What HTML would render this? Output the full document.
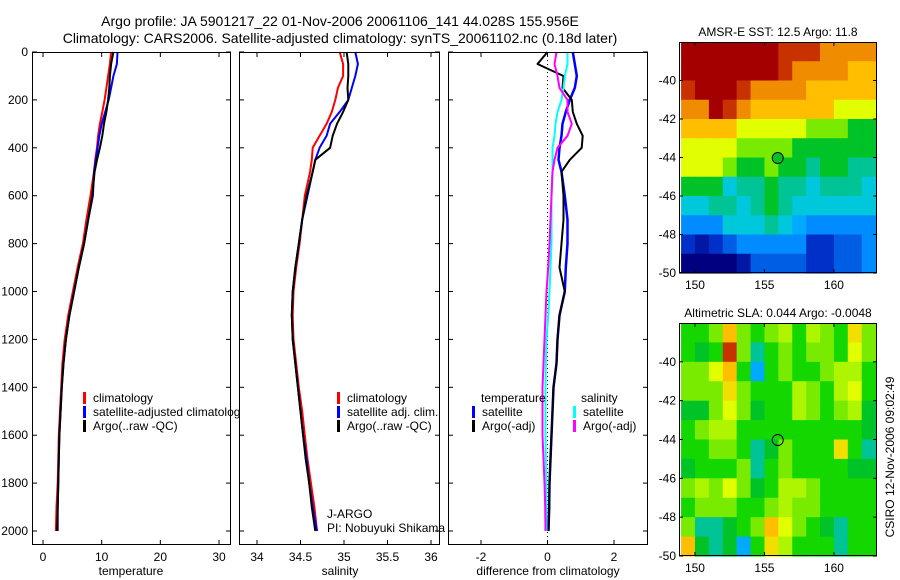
<!DOCTYPE html>
<html><head><meta charset="utf-8">
<style>
html,body{margin:0;padding:0;background:#fff;}
svg{display:block;font-family:"Liberation Sans",sans-serif;}
</style></head>
<body>
<svg id="fig" width="900" height="580" viewBox="0 0 900 580" xmlns="http://www.w3.org/2000/svg">
<rect width="900" height="580" fill="#fff"/>
<text x="340" y="26" font-size="14" text-anchor="middle">Argo profile: JA 5901217_22 01-Nov-2006 20061106_141 44.028S 155.956E</text>
<text x="340" y="43" font-size="14" text-anchor="middle">Climatology: CARS2006. Satellite-adjusted climatology: synTS_20061102.nc (0.18d later)</text>
<g id="root"></g>
</svg>
<script>
// ---------- data ----------
const depths = [0,50,100,150,200,250,300,350,400,450,500,600,700,800,900,1000,1100,1200,1300,1400,1500,1600,1700,1800,1900,2000];
const tempClim = [11.6,11.4,11.1,10.8,10.5,10.1,9.7,9.4,9.2,8.9,8.7,8.1,7.4,6.8,5.9,5.1,4.3,3.7,3.3,3.1,2.9,2.7,2.6,2.5,2.3,2.2];
const tempSat  = [12.7,12.6,12.0,11.6,11.2,10.6,10.0,9.6,9.3,9.0,8.7,8.5,7.7,7.0,6.1,5.3,4.5,3.9,3.5,3.2,3.0,2.8,2.7,2.6,2.5,2.5];
const tempArgo = [12.0,11.6,11.4,11.3,11.1,10.8,10.4,10.1,9.7,9.2,8.8,8.4,7.7,7.0,6.1,5.3,4.5,3.9,3.5,3.2,3.0,2.8,2.7,2.6,2.5,2.4];
const salClim = [34.95,34.99,34.99,34.93,34.90,34.86,34.80,34.72,34.64,34.63,34.61,34.55,34.52,34.49,34.45,34.42,34.41,34.42,34.45,34.48,34.52,34.55,34.58,34.62,34.66,34.69];
const salSat  = [35.13,35.16,35.13,35.09,35.05,34.95,34.84,34.80,34.72,34.67,34.64,34.58,34.52,34.48,34.44,34.41,34.40,34.41,34.44,34.47,34.50,34.53,34.57,34.60,34.64,34.69];
const salArgo = [35.03,35.05,35.05,35.04,35.05,34.99,34.92,34.87,34.84,34.67,34.64,34.57,34.52,34.48,34.44,34.41,34.40,34.41,34.44,34.47,34.50,34.53,34.56,34.60,34.63,34.67];
const dTempSat  = [0.76,0.82,0.88,0.82,0.67,0.55,0.45,0.42,0.36,0.33,0.42,0.52,0.60,0.60,0.55,0.52,0.36,0.30,0.27,0.18,0.15,0.12,0.09,0.06,0.05,0.03];
const dTempArgo = [0.0,-0.3,0.48,0.45,0.73,0.76,0.88,1.06,1.03,0.67,0.42,0.48,0.48,0.42,0.36,0.52,0.36,0.30,0.27,0.18,0.15,0.12,0.09,0.06,0.05,0.03];
const dSalSat  = [0.6,0.6,0.52,0.48,0.42,0.30,0.24,0.21,0.15,0.15,0.15,0.12,0.12,0.12,0.09,0.06,0.02,-0.03,-0.05,-0.06,-0.06,-0.06,-0.05,-0.04,-0.03,-0.03];
const dSalArgo = [0.27,0.21,0.30,0.36,0.60,0.60,0.73,0.60,0.30,0.21,0.15,0.12,0.09,0.06,0.02,-0.03,-0.06,-0.09,-0.12,-0.15,-0.15,-0.15,-0.12,-0.09,-0.07,-0.06];
const depthTicks = [0,200,400,600,800,1000,1200,1400,1600,1800,2000];
const tempTicks = [0,10,20,30];
const salTicks = [34,34.5,35,35.5,36];
const diffTicks = [-2,0,2];
const lonTicks = [150,155,160];
const latTicks = [-40,-42,-44,-46,-48,-50];
const lonCells = [149.5,150.5,151.5,152.5,153.5,154.5,155.5,156.5,157.5,158.5,159.5,160.5,161.5,162.5];
const latCells = [-38.5,-39.5,-40.5,-41.5,-42.5,-43.5,-44.5,-45.5,-46.5,-47.5,-48.5,-49.5];
const sstGrid = [
[10,10,10,10,10,10,10,9,9,9,8,8,8,8],
[10,10,10,10,10,10,10,9,8,8,8,8,7,7],
[9,10,10,10,9,8,8,8,8,7,7,7,7,7],
[8,8,10,9,8,7,7,7,7,7,7,6,6,6],
[7,7,7,7,6,6,6,6,6,5,5,5,4,4],
[6,6,6,6,5,5,5,5,4,4,4,4,4,4],
[6,6,6,5,4,4,5,4,4,3.5,4,4,3.5,3.5],
[4,4,4,3,3.5,3.5,4,3.5,3.5,3,3.5,3.5,3.5,3],
[3,3,3.5,3.5,3,3.5,4,3.5,3,3,3,3,3,3],
[2,2,2,3,3,3,3.5,3,2.5,2,2,2,2,2],
[1,0.5,1,1.5,2,2,2,2,2,1,1,1.5,1.5,2],
[0,0,0,0,0.5,1.5,1.5,1.5,1.5,1,1,1.5,1.5,2]];
const slaGrid = [
[4.5,4.5,5,7,5,4.5,5,5.5,4.5,5.5,5,4.5,6.5,5],
[4.5,4,4.5,9,5,3.5,4.5,5,4.5,5,5,4.5,6,5],
[5,5,6,7,4.5,2.5,4.5,5,4.5,4.5,5,5.5,5.5,4.5],
[5,5,5,6.5,5,4.5,4.5,4.5,5.5,5,4.5,5.5,6,4.5],
[4,4,5,6,5,4,4.5,4.5,5.5,5,4.5,5,5.5,4],
[4.5,5,5.5,5.5,4.5,4.5,4.5,4.5,4.5,4.5,4.5,4.5,4.5,4],
[4.5,4.5,5,5,4.5,3.5,4,5,4.5,4.5,4.5,6.5,4.5,3.5],
[4,4.5,4.5,4.5,5,3.5,4.5,5,4.5,4.5,4.5,4.5,4,4],
[5,5.5,5,6,5,4,4.5,5.5,5.5,5,4.5,4.5,4.5,4.5],
[4.5,5,5,5,4.5,4.5,5,5.5,5,5,4.5,4.5,4.5,4.5],
[5,3.5,3.5,4,4.5,5,7,6,5,4.5,4,3.5,4.5,4.5],
[7,4,3.5,4,2.5,4.5,6.5,5.5,4.5,4.5,4.5,3.5,4.5,4.5]];
const floatLon = 155.956, floatLat = -44.028;

// ---------- helpers ----------
const NS = "http://www.w3.org/2000/svg";
const root = document.getElementById('root');
function mk(tag, attrs, parent){ const e=document.createElementNS(NS,tag); for(const k in attrs) e.setAttribute(k,attrs[k]); (parent||root).appendChild(e); return e; }
function lin(d0,d1,r0,r1){ return v => r0 + (v-d0)*(r1-r0)/(d1-d0); }
const yDepth = lin(0,2000,52,531);
const PT=52, PB=545;
function profilePath(vals, deps, xf, yf){
  return vals.map((v,i)=>(i?'L':'M')+xf(v).toFixed(1)+','+yf(deps[i]).toFixed(1)).join(' ');
}
function frame(x0,x1,name){
  const r=mk('rect',{x:x0,y:PT,width:x1-x0,height:PB-PT,fill:'#fff',stroke:'none'});
  
  
}
function border(x0,x1,name){
  const r=mk('rect',{x:x0+0.5,y:PT+0.5,width:x1-x0-1,height:PB-PT-1,fill:'none',stroke:'#000','stroke-width':1});
  
  
}
function depthTicksFor(x0,x1,labels){
  depthTicks.forEach(d=>{ const y=yDepth(d);
    const t1=mk('line',{x1:x0,x2:x0+5,y1:y,y2:y,stroke:'#000'});
    
    
    const t2=mk('line',{x1:x1-5,x2:x1,y1:y,y2:y,stroke:'#000'});
    
    
    if(labels){ const t=mk('text',{x:x0-4,y:y+4,'font-size':12,'text-anchor':'end'}); t.textContent=d;
      
       }
  });
}
function xTicksFor(ticks,xf,lbl,name){
  ticks.forEach(v=>{ const x=xf(v);
    const a=mk('line',{x1:x,x2:x,y1:PT,y2:PT+5,stroke:'#000'});
    
    
    const b=mk('line',{x1:x,x2:x,y1:PB-5,y2:PB,stroke:'#000'});
    
    
    const t=mk('text',{x:x,y:561,'font-size':12,'text-anchor':'middle'}); t.textContent=v;
    
    
  });
}
function line(vals,xf,color,name,w){
  const p=mk('path',{d:profilePath(vals,depths,xf,yDepth),fill:'none',stroke:color,'stroke-width':w||2,'stroke-linejoin':'round'});
  
  
}
function legend(x,y,color,label,name){
  const b=mk('rect',{x:x,y:y-10,width:3,height:12,fill:color});
  
  
  if(label){ const t=mk('text',{x:x+10,y:y,'font-size':12}); t.textContent=label;
    
     }
}
function text(x,y,s,name,extra){ const t=mk('text',Object.assign({x:x,y:y,'font-size':12},extra||{})); t.textContent=s;
  
   return t; }

// ---------- panel 1: temperature ----------
const xT = lin(0,30,43,219);
frame(32,231,'temperature-panel');
line(tempClim,xT,'#f00','temperature-climatology-line');
line(tempSat,xT,'#00f','temperature-satellite-line');
line(tempArgo,xT,'#000','temperature-argo-line');
depthTicksFor(32,231,true); xTicksFor(tempTicks,xT,true,'temperature-x');
border(32,231,'temperature-panel');
text(131,575,'temperature','temperature-axis-title',{'text-anchor':'middle'});
legend(83,402,'#f00','climatology','legend-climatology');
legend(83,416,'#00f','satellite-adjusted climatology','legend-satellite-adjusted');
legend(83,430,'#000','Argo(..raw -QC)','legend-argo-raw');

// ---------- panel 2: salinity ----------
const xS = lin(34,36,257,431);
frame(239,440,'salinity-panel');
line(salClim,xS,'#f00','salinity-climatology-line');
line(salSat,xS,'#00f','salinity-satellite-line');
line(salArgo,xS,'#000','salinity-argo-line');
depthTicksFor(239,440,false); xTicksFor(salTicks,xS,true,'salinity-x');
border(239,440,'salinity-panel');
text(340,575,'salinity','salinity-axis-title',{'text-anchor':'middle'});
legend(337,402,'#f00','climatology','legend-sal-climatology');
legend(337,416,'#00f','satellite adj. clim.','legend-sal-satellite');
legend(337,430,'#000','Argo(..raw -QC)','legend-sal-argo');
text(327,518,'J-ARGO','agency-label');
text(327,532,'PI: Nobuyuki Shikama','pi-label');

// ---------- panel 3: difference ----------
const xD = lin(-2,2,481,614);
frame(448,648,'difference-panel');
const z=mk('line',{x1:xD(0),x2:xD(0),y1:PT,y2:PB,stroke:'#000','stroke-dasharray':'1,3'});


line(dTempSat,xD,'#00f','temp-diff-satellite-line',2.5);
line(dTempArgo,xD,'#000','temp-diff-argo-line');
line(dSalSat,xD,'#0ff','sal-diff-satellite-line');
line(dSalArgo,xD,'#f0f','sal-diff-argo-line');
depthTicksFor(448,648,false); xTicksFor(diffTicks,xD,true,'difference-x');
border(448,648,'difference-panel');
text(548,575,'difference from climatology','difference-axis-title',{'text-anchor':'middle'});
text(481,402,'temperature','legend-temperature-heading');
legend(472,416,'#00f','satellite','legend-temp-satellite');
legend(472,430,'#000','Argo(-adj)','legend-temp-argo');
text(581,402,'salinity','legend-salinity-heading');
legend(573,416,'#0ff','satellite','legend-sal-sat');
legend(573,430,'#f0f','Argo(-adj)','legend-sal-argo-adj');

// ---------- maps ----------
const cmapStops = [
 [0,[0,0,128]],[1,[0,48,200]],[2,[0,140,255]],[2.5,[0,170,255]],[3,[0,200,220]],[3.5,[0,195,150]],
 [4,[0,195,40]],[4.5,[20,215,0]],[5,[120,235,0]],[6,[225,255,0]],[7,[255,190,0]],[8,[240,140,0]],[9,[200,50,0]],[10,[165,0,0]]];
function cmap(v){
  v=Math.max(0,Math.min(10,v));
  for(let i=1;i<cmapStops.length;i++){
    if(v<=cmapStops[i][0]){ const a=cmapStops[i-1], b=cmapStops[i], t=(v-a[0])/(b[0]-a[0]);
      const c=a[1].map((q,k)=>Math.round(q+(b[1][k]-q)*t)); return 'rgb('+c.join(',')+')'; }
  }
  return 'rgb(165,0,0)';
}
function map(grid,top,bot,name,title,filled){
  const X0=679,X1=877;
  const xL=lin(148.85,163.1,X0,X1), yL=lin(-38,-50,top,bot);
  const g=mk('g',{});
  
  
  for(let r=0;r<latCells.length;r++) for(let c=0;c<lonCells.length;c++){
    const x0=Math.max(X0,xL(lonCells[c]-0.5)), x1=Math.min(X1,xL(lonCells[c]+0.5));
    const y0=Math.max(top,yL(latCells[r]+0.5)), y1=Math.min(bot,yL(latCells[r]-0.5));
    const cell=mk('rect',{x:x0,y:y0,width:x1-x0+0.6,height:y1-y0+0.6,fill:cmap(grid[r][c])},g);
    
    
  }
  const b=mk('rect',{x:X0+0.5,y:top+0.5,width:X1-X0-1,height:bot-top-1,fill:'none',stroke:'#000'});
  
  
  lonTicks.forEach(v=>{ const x=xL(v);
    const a=mk('line',{x1:x,x2:x,y1:top,y2:top+4,stroke:'#000'});
    
    
    const a2=mk('line',{x1:x,x2:x,y1:bot-4,y2:bot,stroke:'#000'});
    
    
    text(x,bot+16,v,name+'-lon-label',{'text-anchor':'middle'}); });
  latTicks.forEach(v=>{ const y=yL(v);
    const a=mk('line',{x1:X0,x2:X0+4,y1:y,y2:y,stroke:'#000'});
    
    
    const a2=mk('line',{x1:X1-4,x2:X1,y1:y,y2:y,stroke:'#000'});
    
    
    text(X0-3,y+4,v,name+'-lat-label',{'text-anchor':'end'}); });
  text((X0+X1)/2,top-6,title,name+'-title',{'text-anchor':'middle'});
  const m=mk('circle',{cx:xL(floatLon),cy:yL(floatLat),r:5.5,fill:filled?cmap(4):'none',stroke:'#000'});
  
  
}
map(sstGrid,42,273,'sst-map','AMSR-E SST: 12.5 Argo: 11.8',true);
map(slaGrid,323,556,'sla-map','Altimetric SLA: 0.044  Argo: -0.0048',false);
text(0,0,'CSIRO 12-Nov-2006 09:02:49','timestamp-label',{'text-anchor':'middle',transform:'translate(894,457) rotate(-90)'});
</script>
</body></html>
